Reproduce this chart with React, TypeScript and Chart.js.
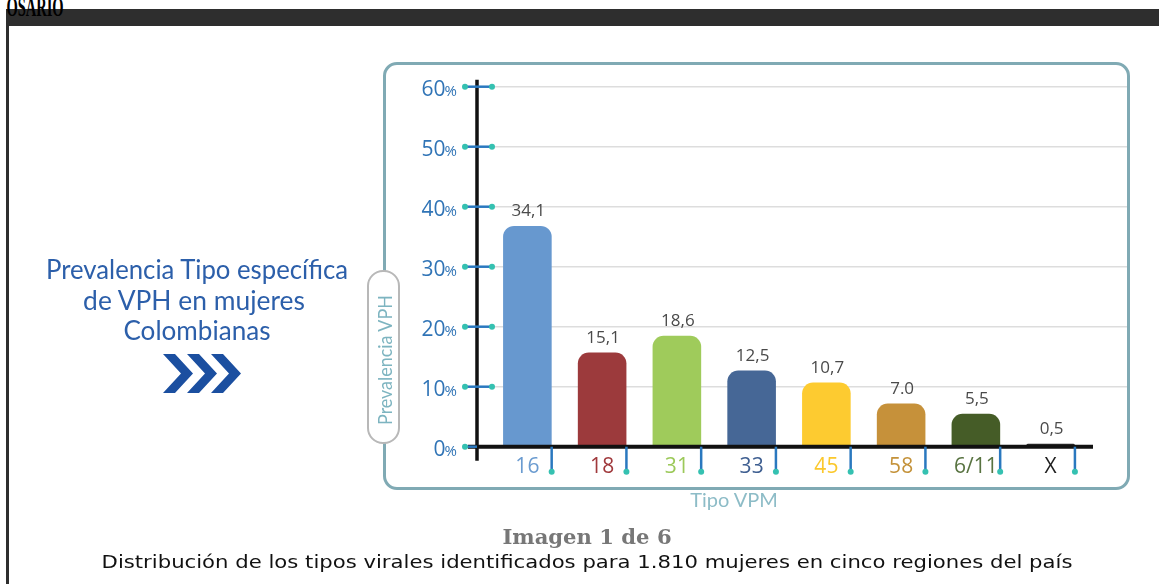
import React, { useEffect, useLayoutEffect, useRef, useState } from 'react';
import { Chart, registerables } from 'chart.js';

Chart.register(...registerables);

// ---- data ----
const categories = ['16', '18', '31', '33', '45', '58', '6/11', 'X'];
// bar heights as drawn in the picture (percent)
const barHeights = [36.8, 15.7, 18.5, 12.7, 10.7, 7.2, 5.5, 0.5];
// printed value labels
const valueLabels = ['34,1', '15,1', '18,6', '12,5', '10,7', '7.0', '5,5', '0,5'];
const barColors = ['#6798cf', '#9c3a3c', '#9fcb5b', '#466796', '#fdcb30', '#c6913a', '#455c27', '#2a2a2a'];
const labelColors = ['#6a9bd0', '#a0393c', '#9cc95a', '#3f5f91', '#fbc82c', '#c4923a', '#587341', '#1e1e1e'];
const yTickValues = [0, 10, 20, 30, 40, 50, 60];
const yTickSuffix = '%';

const W = 1159;
const H = 586;

const decorPlugin = {
  id: 'decor',
  beforeDatasetsDraw(chart: any) {
    const { ctx, chartArea: ca, scales } = chart;
    const y = scales.y;
    ctx.save();
    ctx.strokeStyle = '#dddddd';
    ctx.lineWidth = 1.5;
    for (const v of yTickValues) {
      if (v === 0) continue;
      const py = y.getPixelForValue(v);
      ctx.beginPath();
      ctx.moveTo(ca.left + 2, py);
      ctx.lineTo(ca.right + 39, py);
      ctx.stroke();
    }
    ctx.restore();
  },
  afterDatasetsDraw(chart: any) {
    const { ctx, chartArea: ca, scales } = chart;
    const y = scales.y;
    const meta = chart.getDatasetMeta(0);
    const axisX = ca.left - 13;
    ctx.save();
    // y axis line
    ctx.strokeStyle = '#111';
    ctx.lineWidth = 3.5;
    ctx.beginPath();
    ctx.moveTo(axisX, ca.top - 7);
    ctx.lineTo(axisX, ca.bottom + 14);
    ctx.stroke();
    // x axis line
    ctx.lineWidth = 4;
    ctx.beginPath();
    ctx.moveTo(ca.left - 22, ca.bottom);
    ctx.lineTo(ca.right + 5, ca.bottom);
    ctx.stroke();

    // y ticks
    for (const v of yTickValues) {
      const py = y.getPixelForValue(v);
      const x0 = ca.left - 25;
      const x1 = v === 0 ? axisX : ca.left + 2;
      ctx.strokeStyle = '#2a78bf';
      ctx.lineWidth = 2.5;
      ctx.beginPath();
      ctx.moveTo(x0, py);
      ctx.lineTo(x1, py);
      ctx.stroke();
      ctx.fillStyle = '#35c1b1';
      ctx.beginPath();
      ctx.arc(x0, py, 3, 0, Math.PI * 2);
      ctx.fill();
      if (v !== 0) {
        ctx.beginPath();
        ctx.arc(x1, py, 3, 0, Math.PI * 2);
        ctx.fill();
      }
      // label
      const rightX = ca.left - 33;
      ctx.fillStyle = '#3074b6';
      ctx.textBaseline = 'alphabetic';
      ctx.textAlign = 'right';
      ctx.font = '15px "Open Sans"';
      const pw = ctx.measureText(yTickSuffix).width;
      ctx.fillText(yTickSuffix, rightX, py + 9);
      ctx.font = '21px "Open Sans"';
      ctx.fillText(String(v), rightX - pw + 1, py + 9);
    }

    // x ticks, labels and value labels
    meta.data.forEach((el: any, i: number) => {
      const xr = el.x + el.width / 2;
      ctx.strokeStyle = '#2a78bf';
      ctx.lineWidth = 2.5;
      ctx.beginPath();
      ctx.moveTo(xr, ca.bottom);
      ctx.lineTo(xr, ca.bottom + 24);
      ctx.stroke();
      ctx.fillStyle = '#35c1b1';
      ctx.beginPath();
      ctx.arc(xr, ca.bottom + 25, 3, 0, Math.PI * 2);
      ctx.fill();

      ctx.textAlign = 'center';
      ctx.textBaseline = 'middle';
      ctx.font = '21px "Open Sans"';
      ctx.fillStyle = labelColors[i];
      ctx.fillText(categories[i], el.x, ca.bottom + 20);

      ctx.textBaseline = 'alphabetic';
      ctx.font = '17px "Open Sans"';
      ctx.fillStyle = '#4a4a4a';
      ctx.fillText(valueLabels[i], el.x + 1, el.y - 10);
    });
    ctx.restore();
  },
};

function FitText(props: {
  text: string;
  cx: number;
  cy: number;
  width: number;
  size: number;
  family: string;
  color: string;
  weight?: number | string;
  rotate?: boolean;
}) {
  const ref = useRef<HTMLDivElement>(null);
  const [s, setS] = useState(1);
  useLayoutEffect(() => {
    if (ref.current) {
      const w = ref.current.offsetWidth;
      if (w > 0) setS(props.width / w);
    }
  }, [props.text, props.width]);
  const transform = props.rotate
    ? `translate(-50%, -50%) rotate(-90deg) scaleX(${s})`
    : `translate(-50%, -50%) scaleX(${s})`;
  return (
    <div
      ref={ref}
      style={{
        position: 'absolute',
        left: props.cx,
        top: props.cy,
        whiteSpace: 'nowrap',
        fontFamily: props.family,
        fontSize: props.size,
        lineHeight: `${props.size}px`,
        fontWeight: props.weight ?? 400,
        color: props.color,
        transform,
        transformOrigin: '50% 50%',
      }}
    >
      {props.text}
    </div>
  );
}

export default function App() {
  const canvasRef = useRef<HTMLCanvasElement>(null);

  useEffect(() => {
    if (!canvasRef.current) return;
    const chart = new Chart(canvasRef.current, {
      type: 'bar',
      data: {
        labels: categories,
        datasets: [
          {
            data: barHeights,
            backgroundColor: barColors,
            borderWidth: 0,
            borderRadius: { topLeft: 11, topRight: 11, bottomLeft: 0, bottomRight: 0 },
            borderSkipped: 'start',
            categoryPercentage: 1,
            barPercentage: 0.65,
          },
        ],
      },
      options: {
        responsive: false,
        animation: false,
        events: [],
        layout: { padding: { left: 490, right: W - 1088, top: 86.7, bottom: H - 446.7 } },
        plugins: { legend: { display: false }, tooltip: { enabled: false } },
        scales: {
          x: { display: false },
          y: { display: false, min: 0, max: 60 },
        },
      },
      plugins: [decorPlugin],
    });
    return () => chart.destroy();
  }, []);

  return (
    <div
      style={{
        position: 'absolute',
        left: 0,
        top: 0,
        width: W,
        height: H,
        background: '#ffffff',
        overflow: 'hidden',
      }}
    >
      {/* dark frame */}
      <div style={{ position: 'absolute', left: 6, top: 9, width: W - 6, height: 17, background: '#2e2e2e' }} />
      <div style={{ position: 'absolute', left: 6, top: 9, width: 3, height: 575, background: '#2e2e2e' }} />
      <div
        style={{
          position: 'absolute',
          left: 9,
          top: 26,
          width: 20,
          height: 20,
          background: '#fff',
          borderTopLeftRadius: 6,
        }}
      />
      <FitText text="OSARIO" cx={35} cy={6.5} width={57} size={28} family='"Liberation Serif", serif' weight={700} color="#000" />

      {/* chart panel */}
      <div
        style={{
          position: 'absolute',
          left: 383,
          top: 62,
          width: 747,
          height: 428,
          boxSizing: 'border-box',
          border: '3px solid #80aab4',
          borderRadius: 14,
        }}
      />
      <canvas ref={canvasRef} width={W} height={H} style={{ position: 'absolute', left: 0, top: 0, width: W, height: H }} />

      {/* y axis title pill */}
      <div
        style={{
          position: 'absolute',
          left: 367,
          top: 270,
          width: 33,
          height: 174,
          boxSizing: 'border-box',
          border: '2.5px solid #b8b8b8',
          borderRadius: 16,
          background: '#fff',
        }}
      />
      <FitText text="Prevalencia VPH" cx={383.5} cy={360} width={130} size={19} family="Lato" color="#7db4c0" rotate />
      <FitText text="Tipo VPM" cx={734} cy={499} width={88} size={20} family="Lato" color="#8dbcc7" />

      {/* left title */}
      <FitText text="Prevalencia Tipo específica" cx={197} cy={268} width={302} size={27} family="Lato" color="#2c5faa" />
      <FitText text="de VPH en mujeres" cx={194} cy={299} width={222} size={27} family="Lato" color="#2c5faa" />
      <FitText text="Colombianas" cx={196.5} cy={329} width={147} size={27} family="Lato" color="#2c5faa" />
      <svg style={{ position: 'absolute', left: 163, top: 354 }} width={80} height={40} viewBox="0 0 80 40">
        {[0, 24, 48].map((x0) => (
          <polygon
            key={x0}
            points={`${x0},0 ${x0 + 12},0 ${x0 + 30},19.5 ${x0 + 12},39 ${x0},39 ${x0 + 18},19.5`}
            fill="#1b4fa0"
          />
        ))}
      </svg>

      {/* captions */}
      <FitText text="Imagen 1 de 6" cx={586.5} cy={537} width={169} size={20} family='"DejaVu Serif", serif' weight={700} color="#777777" />
      <FitText
        text="Distribución de los tipos virales identificados para 1.810 mujeres en cinco regiones del país"
        cx={586.5}
        cy={562}
        width={971}
        size={18}
        family='"DejaVu Sans", sans-serif'
        color="#111111"
      />
    </div>
  );
}
